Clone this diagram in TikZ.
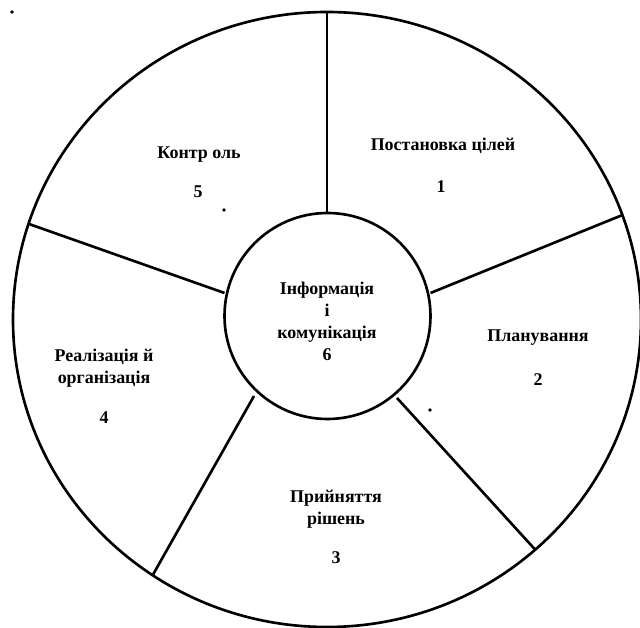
\documentclass[tikz,border=0pt]{standalone}
\usepackage{fontspec}
\setmainfont{Liberation Serif}
\usetikzlibrary{positioning}

\begin{document}
\begin{tikzpicture}[x=0.02cm,y=-0.02cm,
  lbl/.style={font=\bfseries\fontsize{10.2}{12.5}\selectfont,align=center,inner sep=0pt},
  spoke/.style={line width=1.5pt}]
\def\outercircle{(327,319.5) ellipse (314 and 307.5)}
\def\innercircle{(327.5,316) circle (103)}
  \useasboundingbox (0,0) rectangle (640,628);
  \clip (0,0) rectangle (640,628);
  \draw[spoke] \outercircle;
  \draw[spoke] \innercircle;
  % spoke ends
  \coordinate (i1) at (327,213);   \coordinate (o1) at (327,12);
  \coordinate (i2) at (430.5,293); \coordinate (o2) at (622.5,215);
  \coordinate (i3) at (397,398);   \coordinate (o3) at (535.5,550);
  \coordinate (i4) at (254,396);   \coordinate (o4) at (152.5,575.5);
  \coordinate (i5) at (224.5,293); \coordinate (o5) at (29,224);
  \foreach \k in {1,...,5}
    \draw[spoke] (i\k) -- (o\k);
  % labels
  \node[lbl] (goal) at (443,146) {Постановка цілей};
  \node[lbl] (goalnum) at (441,187) {1};
  \node[lbl] (plan) at (538,338) {Планування};
  \node[lbl] (plannum) at (538,380) {2};
  \node[lbl] (decide) at (336,509) {Прийняття\\рішень};
  \node[lbl] (decidenum) at (336,558) {3};
  \node[lbl] (realize) at (104,368) {Реалізація й\\організація};
  \node[lbl] (realizenum) at (104,418) {4};
  \node[lbl] (control) at (199,155) {Контр оль};
  \node[lbl] (controlnum) at (198,192) {5};
  \node[lbl] (info) at (327,321) {Інформація\\і\\комунікація\\6};
  % stray dots
  \fill (12,12) circle (1pt);
  \fill (224,210) circle (1pt);
  \fill (430,410) circle (1pt);
\end{tikzpicture}
\end{document}
